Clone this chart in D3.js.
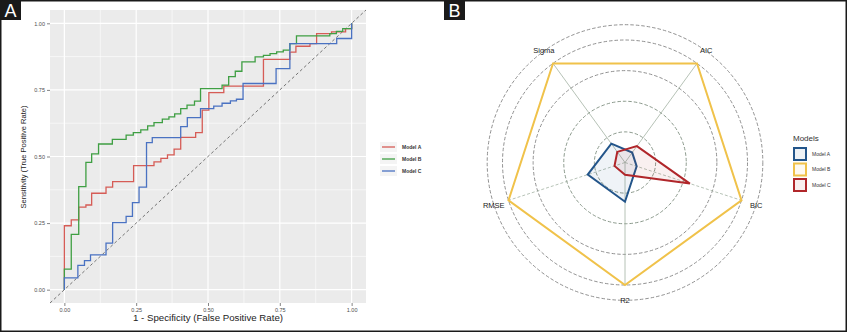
<!DOCTYPE html>
<html>
<head>
<meta charset="utf-8">
<script src="https://cdn.jsdelivr.net/npm/d3@7"></script>
<style>
  html, body { margin: 0; padding: 0; background: #fff; }
  svg { display: block; font-family: "Liberation Sans", Arial, sans-serif; }
</style>
</head>
<body>
<svg id="fig" width="847" height="332"></svg>
<script>
// ROC curves (panel A), step vertices: at each fpr the curve climbs to tpr
const modelAFpr = [0, 0, 0.024, 0.05, 0.075, 0.095, 0.145, 0.168, 0.241, 0.312, 0.336, 0.359, 0.382, 0.405, 0.457, 0.48, 0.503, 0.555, 0.693, 0.785, 0.806, 0.855, 0.878, 0.93, 0.979, 1];
const modelATpr = [0, 0.24, 0.262, 0.31, 0.318, 0.362, 0.385, 0.406, 0.466, 0.48, 0.493, 0.506, 0.528, 0.572, 0.59, 0.674, 0.74, 0.764, 0.865, 0.892, 0.914, 0.924, 0.961, 0.968, 0.98, 1];
const modelBFpr = [0, 0, 0.024, 0.05, 0.075, 0.095, 0.119, 0.167, 0.215, 0.24, 0.266, 0.29, 0.312, 0.341, 0.364, 0.384, 0.405, 0.427, 0.453, 0.474, 0.549, 0.572, 0.595, 0.618, 0.664, 0.693, 0.716, 0.739, 0.762, 0.785, 0.808, 0.924, 0.947, 0.969, 1];
const modelBTpr = [0, 0.077, 0.208, 0.387, 0.478, 0.51, 0.547, 0.564, 0.58, 0.59, 0.6, 0.615, 0.627, 0.64, 0.649, 0.66, 0.68, 0.693, 0.708, 0.755, 0.768, 0.8, 0.82, 0.855, 0.874, 0.88, 0.886, 0.893, 0.899, 0.924, 0.953, 0.961, 0.97, 0.98, 1];
const modelCFpr = [0, 0, 0.047, 0.07, 0.091, 0.145, 0.168, 0.215, 0.237, 0.26, 0.286, 0.306, 0.405, 0.428, 0.474, 0.52, 0.549, 0.578, 0.599, 0.622, 0.737, 0.785, 0.948, 1];
const modelCTpr = [0, 0.044, 0.091, 0.109, 0.131, 0.175, 0.252, 0.275, 0.327, 0.385, 0.552, 0.571, 0.612, 0.646, 0.68, 0.689, 0.7, 0.709, 0.715, 0.774, 0.83, 0.924, 0.943, 1];
const rocModels = ["Model A", "Model B", "Model C"];
const rocTicks = [0, 0.25, 0.5, 0.75, 1];
const rocTickLabels = ["0.00", "0.25", "0.50", "0.75", "1.00"];

// Radar (panel B), values scaled 0..1
const radarAxes = ["Sigma", "AIC", "BIC", "R2", "RMSE"];
const radarModels = ["Model A", "Model B", "Model C"];
const radarA = [0.19, 0.10, 0.10, 0.32, 0.32];
const radarB = [1, 1, 1, 1, 1];
const radarC = [0.107, 0.165, 0.557, 0.10, 0.09];
const radarRings = [0.25, 0.5, 0.75, 1, 1.125];

const svg = d3.select("#fig");

// ---------- Panel A ----------
const x = d3.scaleLinear().domain([-0.05, 1.05]).range([50, 366]);
const y = d3.scaleLinear().domain([-0.05, 1.05]).range([303, 10]);
const rocColors = ["#d65c56", "#3f9f43", "#4a72c2"];

const gA = svg.append("g");
gA.append("rect").attr("x", 50).attr("y", 10).attr("width", 316).attr("height", 293).attr("fill", "#ebebeb");

const minor = [0.125, 0.375, 0.625, 0.875];
gA.selectAll("line.minx").data(minor).join("line")
  .attr("x1", d => x(d)).attr("x2", d => x(d)).attr("y1", 10).attr("y2", 303)
  .attr("stroke", "#fff").attr("stroke-width", 0.6);
gA.selectAll("line.miny").data(minor).join("line")
  .attr("y1", d => y(d)).attr("y2", d => y(d)).attr("x1", 50).attr("x2", 366)
  .attr("stroke", "#fff").attr("stroke-width", 0.6);
gA.selectAll("line.majx").data(rocTicks).join("line")
  .attr("x1", d => x(d)).attr("x2", d => x(d)).attr("y1", 10).attr("y2", 303)
  .attr("stroke", "#fff").attr("stroke-width", 1.2);
gA.selectAll("line.majy").data(rocTicks).join("line")
  .attr("y1", d => y(d)).attr("y2", d => y(d)).attr("x1", 50).attr("x2", 366)
  .attr("stroke", "#fff").attr("stroke-width", 1.2);

// diagonal reference
gA.append("line")
  .attr("x1", x(-0.05)).attr("y1", y(-0.05)).attr("x2", x(1.05)).attr("y2", y(1.05))
  .attr("stroke", "#666").attr("stroke-width", 0.9).attr("stroke-dasharray", "3,2.5");

const rocSeries = [
  modelAFpr.map((f, i) => [f, modelATpr[i]]),
  modelBFpr.map((f, i) => [f, modelBTpr[i]]),
  modelCFpr.map((f, i) => [f, modelCTpr[i]])
];
const rocLine = d3.line().x(d => x(d[0])).y(d => y(d[1])).curve(d3.curveStepAfter);
gA.selectAll("path.roc").data(rocSeries).join("path")
  .attr("d", rocLine).attr("fill", "none")
  .attr("stroke", (d, i) => rocColors[i]).attr("stroke-width", 1.3);

// axes
const xAxis = d3.axisBottom(x).tickValues(rocTicks).tickFormat((d, i) => rocTickLabels[i]).tickSize(3).tickPadding(2);
const yAxis = d3.axisLeft(y).tickValues(rocTicks).tickFormat((d, i) => rocTickLabels[i]).tickSize(3).tickPadding(2);
[gA.append("g").attr("transform", "translate(0,303)").call(xAxis),
 gA.append("g").attr("transform", "translate(50,0)").call(yAxis)].forEach(ax => {
  ax.select(".domain").remove();
  ax.selectAll("line").attr("stroke", "#333").attr("stroke-width", 0.6);
  ax.selectAll("text").attr("fill", "#4d4d4d").style("font-size", "5.5px").style("font-family", "Liberation Sans, Arial");
});

gA.append("text").attr("x", 208).attr("y", 321).attr("text-anchor", "middle")
  .attr("font-size", 8.5).attr("fill", "#222").attr("textLength", 150).attr("lengthAdjust", "spacingAndGlyphs")
  .text("1 - Specificity (False Positive Rate)");
gA.append("text").attr("transform", "translate(26,157) rotate(-90)").attr("text-anchor", "middle")
  .attr("font-size", 7).attr("fill", "#222").attr("textLength", 103).attr("lengthAdjust", "spacingAndGlyphs")
  .text("Sensitivity (True Positive Rate)");

const legA = gA.append("g").selectAll("g").data(rocModels).join("g")
  .attr("transform", (d, i) => `translate(382,${147 + i * 12})`);
legA.append("rect").attr("x", -2).attr("y", -5).attr("width", 17).attr("height", 10).attr("fill", "#f4f4f4");
legA.append("line").attr("x1", 0).attr("x2", 13).attr("stroke", (d, i) => rocColors[i]).attr("stroke-width", 1.3);
legA.append("text").attr("x", 20).attr("dy", "0.35em").attr("font-size", 5).attr("font-weight", "bold")
  .attr("fill", "#333").text(d => d);

// ---------- Panel B ----------
const cx = 625, cy = 162.5;
const r = d3.scaleLinear().domain([0, 1]).range([0, 122.5]);
const angle = d3.scaleLinear().domain([0, radarAxes.length]).range([-Math.PI / 5, 2 * Math.PI - Math.PI / 5]);
const radarColors = ["#23558a", "#f0c24a", "#b0262a"];

const gB = svg.append("g").attr("transform", `translate(${cx},${cy})`);
gB.selectAll("circle.ring").data(radarRings).join("circle")
  .attr("r", d => r(d)).attr("fill", "none")
  .attr("stroke", (d, i) => i === 0 || i === 1 ? "#7f8f80" : "#858585")
  .attr("stroke-width", 0.9).attr("stroke-dasharray", "3.5,2");
gB.selectAll("line.spoke").data(radarAxes).join("line")
  .attr("x1", 0).attr("y1", 0)
  .attr("x2", (d, i) => r(1) * Math.sin(angle(i)))
  .attr("y2", (d, i) => -r(1) * Math.cos(angle(i)))
  .attr("stroke", "#a3b3a3").attr("stroke-width", 0.8)
  .attr("stroke-dasharray", (d, i) => (i === 2 || i === 4 ? "3,2" : null));

const radarSeries = [radarA, radarB, radarC];
const radarLine = d3.lineRadial().angle((d, i) => angle(i)).radius(d => r(d)).curve(d3.curveLinearClosed);
gB.selectAll("path.radar").data(radarSeries).join("path")
  .attr("d", radarLine)
  .attr("fill", (d, i) => radarColors[i]).attr("fill-opacity", (d, i) => (i === 1 ? 0 : 0.07))
  .attr("stroke", (d, i) => radarColors[i]).attr("stroke-width", 2).attr("stroke-linejoin", "miter");

gB.selectAll("text.axis").data(radarAxes).join("text")
  .attr("x", (d, i) => r(1.127) * Math.sin(angle(i)))
  .attr("y", (d, i) => -r(1.127) * Math.cos(angle(i)))
  .attr("text-anchor", "middle").attr("dy", "0.35em")
  .attr("font-size", 7.5).attr("fill", "#1a1a1a").text(d => d);

const legB = svg.append("g").attr("transform", "translate(793,0)");
legB.append("text").attr("x", 0).attr("y", 141).attr("font-size", 8).attr("fill", "#333").text("Models");
const legRows = legB.selectAll("g").data(radarModels).join("g")
  .attr("transform", (d, i) => `translate(0,${154 + i * 15.5})`);
legRows.append("rect").attr("x", 1).attr("y", -6).attr("width", 12).attr("height", 12)
  .attr("fill", (d, i) => radarColors[i]).attr("fill-opacity", 0.08)
  .attr("stroke", (d, i) => radarColors[i]).attr("stroke-width", 2);
legRows.append("text").attr("x", 19).attr("dy", "0.35em").attr("font-size", 5).attr("fill", "#333").text(d => d);

// ---------- panel tags and frame ----------
const tags = [["A", 0], ["B", 444]];
tags.forEach(([t, tx]) => {
  svg.append("rect").attr("x", tx).attr("y", 0).attr("width", 21).attr("height", 20).attr("fill", "#1a1a1a");
  svg.append("text").attr("x", tx + 10.5).attr("y", 17).attr("text-anchor", "middle")
    .attr("font-size", 18).attr("fill", "#fff").text(t);
});
svg.append("rect").attr("x", 0.75).attr("y", 0.75).attr("width", 845.5).attr("height", 330.5)
  .attr("fill", "none").attr("stroke", "#1a1a1a").attr("stroke-width", 1.5);
</script>
</body>
</html>
